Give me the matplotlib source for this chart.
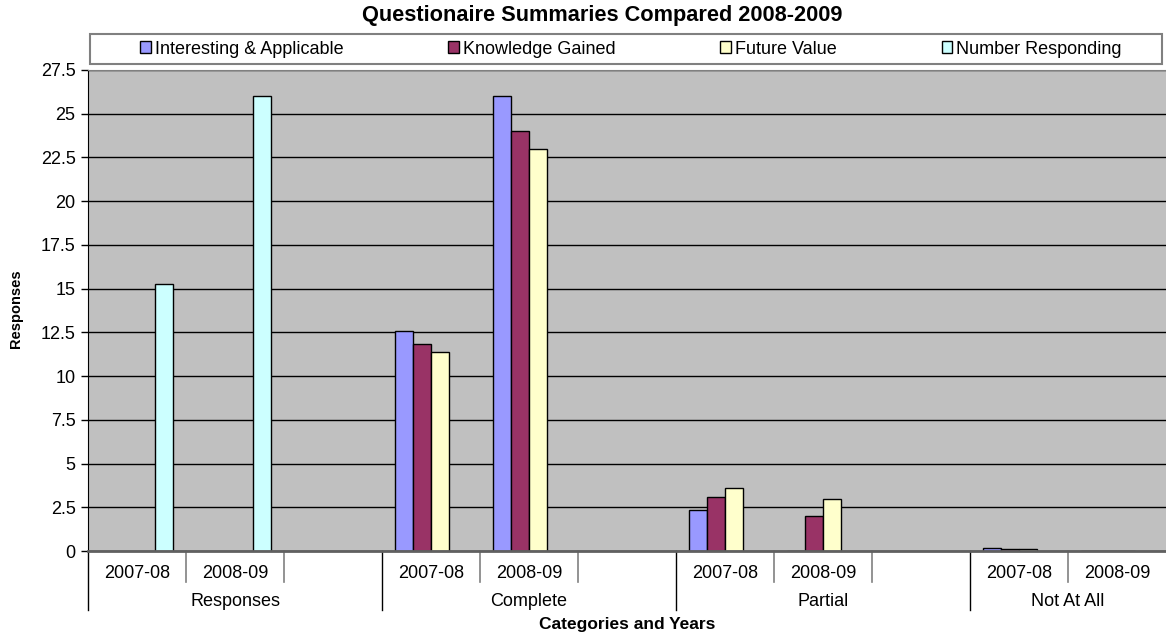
import matplotlib.pyplot as plt
import numpy as np
from matplotlib.patches import Rectangle

plt.rcParams['font.family'] = ['Liberation Sans', 'DejaVu Sans']

# one slot per year column, blank slot between groups
years = ['2007-08', '2008-09', '', '2007-08', '2008-09', '',
         '2007-08', '2008-09', '', '2007-08', '2008-09']
groups = ['Responses', 'Complete', 'Partial', 'Not At All']
group_sizes = [3, 3, 3, 2]

series_names = ['Interesting & Applicable', 'Knowledge Gained',
                'Future Value', 'Number Responding']
nan = np.nan
interesting = [nan, nan, nan, 12.6, 26, nan, 2.35, 0, nan, 0.2, 0]
knowledge = [nan, nan, nan, 11.85, 24, nan, 3.1, 2, nan, 0.1, 0]
future = [nan, nan, nan, 11.35, 23, nan, 3.6, 3, nan, 0.1, 0]
responding = [15.25, 26, nan, nan, nan, nan, nan, nan, nan, nan, nan]

colors = ['#9999FF', '#993366', '#FFFFCC', '#CCFFFF']

W, H = 1166, 635
fig = plt.figure(figsize=(W / 100, H / 100), dpi=100)
ax = fig.add_axes([88 / W, 84 / H, 1078 / W, 481 / H])
ax.set_facecolor('#C0C0C0')

x = np.arange(len(years))
bw = 0.185
handles = []
for i, (vals, col) in enumerate(zip([interesting, knowledge, future, responding], colors)):
    b = ax.bar(x + (i - 1.5) * bw, vals, width=bw, color=col,
               edgecolor='black', linewidth=1, zorder=3)
    handles.append(b)

ax.set_xlim(-0.5, len(years) - 0.5)
ax.set_ylim(0, 27.5)
yt = np.arange(0, 27.6, 2.5)
ax.set_yticks(yt, ['{:g}'.format(v) for v in yt])
ax.yaxis.grid(True, color='black', linewidth=1)
ax.set_axisbelow(True)
ax.tick_params(axis='y', length=5, width=1, labelsize=13, pad=4)

ax.set_xticks(x, years)
ax.tick_params(axis='x', length=0, labelsize=13, pad=10)

ax.spines['right'].set_visible(False)
ax.spines['top'].set_color('#808080')
ax.spines['left'].set_color('black')
ax.spines['bottom'].set_color('#606060')
ax.spines['bottom'].set_linewidth(2)
ax.spines['bottom'].set_zorder(4)

# separators under the axis: short between years, long between groups
trans = ax.get_xaxis_transform()
starts = np.cumsum([0] + group_sizes[:-1])
for k in range(len(years)):
    edge = k - 0.5
    if k in starts:
        ax.plot([edge, edge], [0, -59 / 481], transform=trans, clip_on=False,
                color='black', linewidth=1)
    else:
        ax.plot([edge, edge], [0, -31 / 481], transform=trans, clip_on=False,
                color='#808080', linewidth=1.2)

for s, n, name in zip(starts, group_sizes, groups):
    ax.text(s - 0.5 + n / 2, -51 / 481, name, transform=trans,
            ha='center', va='center', fontsize=13)

ax.text(0.5, -74 / 481, 'Categories and Years', transform=ax.transAxes,
        ha='center', va='center', fontsize=12.5, fontweight='bold')

fig.text(602 / W, 1 - 16 / H, 'Questionaire Summaries Compared 2008-2009',
         ha='center', va='center', fontsize=15.7, fontweight='bold')
fig.text(16 / W, 1 - 309 / H, 'Responses', rotation=90,
         ha='center', va='center', fontsize=10.5, fontweight='bold')

fig.add_artist(Rectangle((90 / W, 1 - 64 / H), 1072 / W, 30 / H,
                         transform=fig.transFigure, facecolor='white',
                         edgecolor='#808080', linewidth=1.5))
fig.legend(handles, series_names, loc='center',
           bbox_to_anchor=(631 / W, 1 - 49 / H), ncol=4, frameon=False,
           fontsize=13, handlelength=0.6, handleheight=0.6,
           handletextpad=0.22, columnspacing=5.8)

fig.savefig('out.png', dpi=100)
